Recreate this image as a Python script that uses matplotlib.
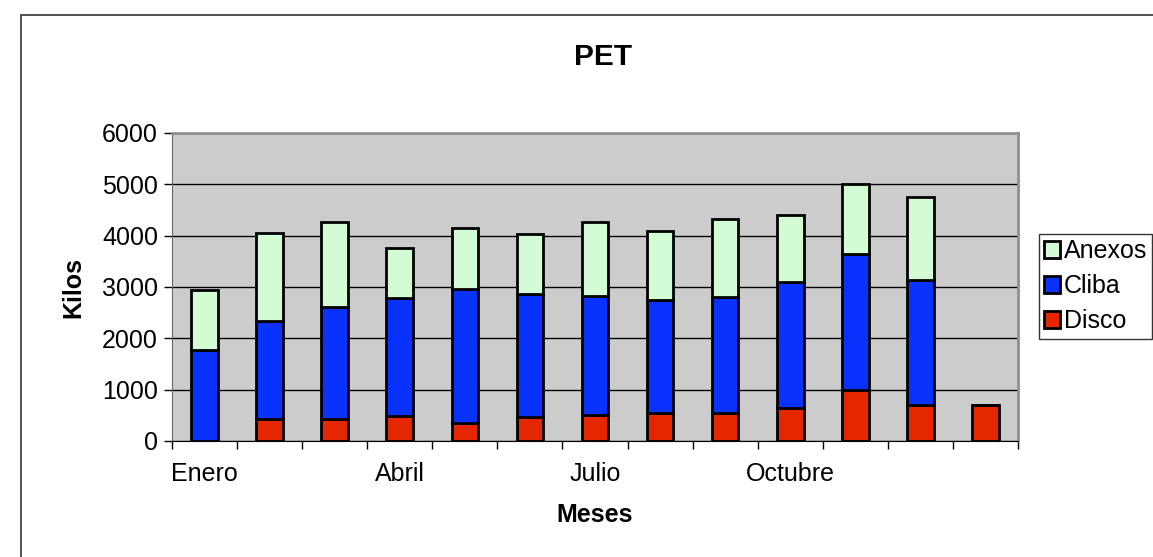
import matplotlib.pyplot as plt
from matplotlib.patches import Rectangle
import numpy as np

plt.rcParams['font.family'] = ['Liberation Sans', 'DejaVu Sans']

# months (13 categories, only every third labelled)
meses = ['Enero', '', '', 'Abril', '', '', 'Julio', '', '', 'Octubre', '', '', '']
disco = [0, 430, 420, 490, 360, 470, 510, 540, 550, 640, 990, 700, 695]
cliba = [1770, 1900, 2195, 2290, 2600, 2400, 2305, 2210, 2260, 2450, 2645, 2435, 0]
anexos = [1170, 1720, 1655, 980, 1180, 1170, 1460, 1340, 1520, 1320, 1365, 1610, 0]

fs = 18

fig = plt.figure(figsize=(11.53, 5.57), dpi=100)
ax = fig.add_axes([172 / 1153, 1 - 441 / 557, (1018 - 172) / 1153, (441 - 133) / 557])

# outer chart border
fig.patches.append(Rectangle((21 / 1153, -0.1), 1.2, 1 - 15 / 557 + 0.1,
                             transform=fig.transFigure, fill=False,
                             edgecolor='#333333', linewidth=1.2))

x = np.arange(len(meses))
w = 0.41
d = np.array(disco)
c = np.array(cliba)
a = np.array(anexos)

ax.bar(x, d, w, color='#E52700', edgecolor='black', linewidth=2, label='Disco', zorder=3)
ax.bar(x, c, w, bottom=d, color='#0A32FF', edgecolor='black', linewidth=2, label='Cliba', zorder=3)
ax.bar(x, a, w, bottom=d + c, color='#D4FCD4', edgecolor='black', linewidth=2, label='Anexos', zorder=3)

ax.set_facecolor('#CCCCCC')
ax.set_xlim(-0.5, len(meses) - 0.5)
ax.set_ylim(0, 6000)
ax.set_yticks(range(0, 6001, 1000))
ax.yaxis.grid(True, color='black', linewidth=1.0, zorder=0)
ax.set_axisbelow(True)

ax.set_xticks(np.arange(-0.5, len(meses)), labels=[''] * (len(meses) + 1))
ax.set_xticks(x, labels=meses, minor=True)
ax.tick_params(axis='x', which='minor', length=0, pad=15, labelsize=fs)
ax.tick_params(axis='x', which='major', length=6, width=1, direction='out')
ax.tick_params(axis='y', length=6, width=1, labelsize=fs, pad=4)

for side in ['top', 'right']:
    ax.spines[side].set_color('#909090')
    ax.spines[side].set_linewidth(2)
ax.spines['left'].set_color('#666666')
ax.spines['bottom'].set_color('black')

ax.set_xlabel('Meses', fontsize=fs, fontweight='bold', labelpad=12)
ax.set_ylabel('Kilos', fontsize=fs, fontweight='bold', labelpad=12)
fig.text(603 / 1153, 1 - 57 / 557, 'PET', ha='center', va='center',
         fontsize=21.5, fontweight='bold')

h, l = ax.get_legend_handles_labels()
leg = fig.legend(h[::-1], l[::-1], loc='upper left',
                 bbox_to_anchor=(1039 / 1153, 1 - 234 / 557),
                 fontsize=fs, frameon=True, fancybox=False,
                 edgecolor='black', handlelength=0.65, handleheight=0.65,
                 handletextpad=0.15, borderaxespad=0, borderpad=0.2,
                 labelspacing=0.45)
leg.get_frame().set_linewidth(1.0)

fig.savefig('out.png', dpi=100)
